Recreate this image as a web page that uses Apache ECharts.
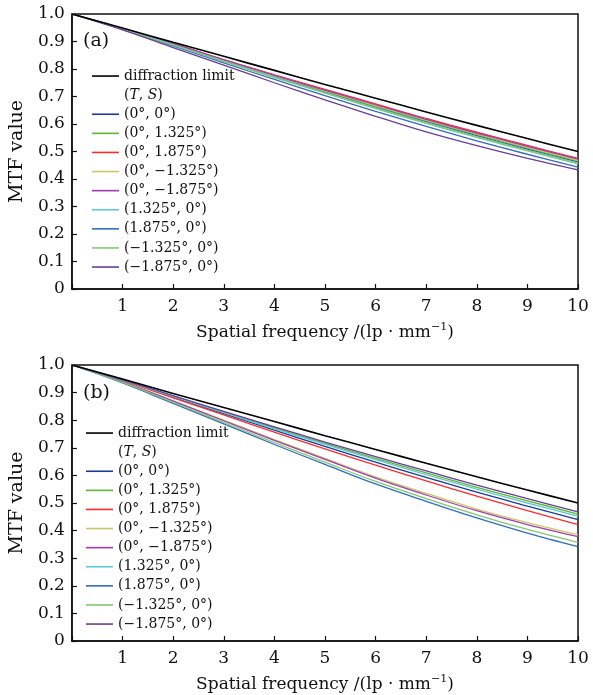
<!DOCTYPE html>
<html><head><meta charset="utf-8">
<script src="https://cdn.jsdelivr.net/npm/echarts@6/dist/echarts.min.js"></script>
<style>html,body{margin:0;padding:0;background:#fff}#c{width:593px;height:695px}</style>
</head><body><div id="c"></div>
<script>
// Spatial frequency (lp/mm)
const freq = [0, 1, 2, 3, 4, 5, 6, 7, 8, 9, 10];
const xTickLabels = ['', '1', '2', '3', '4', '5', '6', '7', '8', '9', '10'];
const yTickLabels = ['0', '0.1', '0.2', '0.3', '0.4', '0.5', '0.6', '0.7', '0.8', '0.9', '1.0'];

const names = ['diffraction limit', '(T, S)', '(0°, 0°)', '(0°, 1.325°)', '(0°, 1.875°)', '(0°, −1.325°)',
  '(0°, −1.875°)', '(1.325°, 0°)', '(1.875°, 0°)', '(−1.325°, 0°)', '(−1.875°, 0°)'];
const colors = ['#000000', 'rgba(0,0,0,0)', '#1a3a9c', '#5cb82e', '#ff2a2a', '#c8c868',
  '#a03cb0', '#60c8d8', '#2f6cc4', '#84c870', '#6a3c9c'];

// diffraction limit (same in both panels)
const diffLimit = [1, 0.949, 0.897, 0.846, 0.795, 0.744, 0.694, 0.644, 0.595, 0.547, 0.500];

// panel (a)
const a_0_0      = [1, 0.946, 0.889, 0.830, 0.773, 0.717, 0.662, 0.609, 0.558, 0.509, 0.462];
const a_0_1325   = [1, 0.946, 0.890, 0.831, 0.774, 0.719, 0.664, 0.611, 0.561, 0.512, 0.465];
const a_0_1875   = [1, 0.947, 0.893, 0.834, 0.779, 0.726, 0.673, 0.620, 0.570, 0.522, 0.475];
const a_0_m1325  = [1, 0.947, 0.891, 0.832, 0.776, 0.721, 0.667, 0.614, 0.564, 0.515, 0.468];
const a_0_m1875  = [1, 0.947, 0.892, 0.833, 0.777, 0.723, 0.670, 0.617, 0.567, 0.519, 0.472];
const a_1325_0   = [1, 0.946, 0.888, 0.829, 0.771, 0.714, 0.659, 0.605, 0.554, 0.505, 0.458];
const a_1875_0   = [1, 0.944, 0.884, 0.822, 0.762, 0.703, 0.646, 0.591, 0.539, 0.490, 0.443];
const a_m1325_0  = [1, 0.945, 0.887, 0.827, 0.769, 0.712, 0.656, 0.602, 0.551, 0.502, 0.455];
const a_m1875_0  = [1, 0.942, 0.878, 0.814, 0.750, 0.688, 0.628, 0.571, 0.521, 0.475, 0.433];

// panel (b)
const b_0_0      = [1, 0.944, 0.884, 0.824, 0.764, 0.705, 0.648, 0.593, 0.539, 0.489, 0.440];
const b_0_1325   = [1, 0.945, 0.887, 0.829, 0.772, 0.716, 0.662, 0.609, 0.557, 0.508, 0.460];
const b_0_1875   = [1, 0.943, 0.881, 0.819, 0.757, 0.696, 0.637, 0.580, 0.525, 0.472, 0.422];
const b_0_m1325  = [1, 0.940, 0.870, 0.800, 0.730, 0.662, 0.595, 0.535, 0.478, 0.429, 0.385];
const b_0_m1875  = [1, 0.939, 0.869, 0.798, 0.727, 0.658, 0.590, 0.529, 0.472, 0.422, 0.378];
const b_1325_0   = [1, 0.945, 0.886, 0.827, 0.769, 0.712, 0.657, 0.603, 0.550, 0.500, 0.452];
const b_1875_0   = [1, 0.935, 0.861, 0.787, 0.712, 0.640, 0.569, 0.506, 0.446, 0.391, 0.342];
const b_m1325_0  = [1, 0.937, 0.865, 0.792, 0.719, 0.648, 0.578, 0.516, 0.457, 0.404, 0.357];
const b_m1875_0  = [1, 0.946, 0.889, 0.832, 0.776, 0.721, 0.668, 0.616, 0.565, 0.516, 0.468];

const panelA = [diffLimit, [], a_0_0, a_0_1325, a_0_1875, a_0_m1325, a_0_m1875, a_1325_0, a_1875_0, a_m1325_0, a_m1875_0];
const panelB = [diffLimit, [], b_0_0, b_0_1325, b_0_1875, b_0_m1325, b_0_m1875, b_1325_0, b_1875_0, b_m1325_0, b_m1875_0];

const FONT = 'DejaVu Serif';
const chart = echarts.init(document.getElementById('c'), null, {renderer: 'canvas'});

function makeSeries(vals, gi) {
  return vals.map((v, k) => ({
    name: names[k],
    type: 'line',
    xAxisIndex: gi, yAxisIndex: gi,
    data: v.map((y, i) => [freq[i], y]),
    showSymbol: false, symbol: 'none',
    smooth: 0.35,
    color: colors[k],
    lineStyle: {width: k === 0 ? 1.6 : 1.3, color: colors[k]},
    z: k === 0 ? 5 : 3,
    silent: true,
    animation: false
  }));
}

function xAxisCfg(gi) {
  return {
    type: 'value', gridIndex: gi, min: 0, max: 10, interval: 1,
    axisLine: {show: true, lineStyle: {color: '#111', width: 1.5}},
    axisTick: {show: true, inside: true, length: 5, lineStyle: {color: '#111', width: 1.2}},
    splitLine: {show: false},
    axisLabel: {margin: 9, color: '#111', fontFamily: FONT, fontSize: 17,
      formatter: v => xTickLabels[Math.round(v)]},
    name: '{t|Spatial frequency /(lp · mm}{s|−1}{t|)}',
    nameLocation: 'middle', nameGap: 33,
    nameTextStyle: {color: '#111', fontFamily: FONT, fontSize: 17,
      rich: {t: {fontFamily: FONT, fontSize: 17, color: '#111'},
             s: {fontFamily: FONT, fontSize: 11, color: '#111', verticalAlign: 'top', padding: [0, 0, 10, 0]}}}
  };
}
function yAxisCfg(gi) {
  return {
    type: 'value', gridIndex: gi, min: 0, max: 1, interval: 0.1,
    axisLine: {show: true, lineStyle: {color: '#111', width: 1.5}},
    axisTick: {show: true, inside: true, length: 5, lineStyle: {color: '#111', width: 1.2}},
    splitLine: {show: false},
    axisLabel: {margin: 7, color: '#111', fontFamily: FONT, fontSize: 17,
      formatter: v => yTickLabels[Math.round(v * 10)]},
    name: 'MTF value', nameLocation: 'middle', nameGap: 42, nameRotate: 90,
    nameTextStyle: {color: '#111', fontFamily: FONT, fontSize: 19}
  };
}
function legendCfg(left, top) {
  return {
    orient: 'vertical', left: left, top: top, itemGap: 0, padding: 0,
    icon: 'rect', itemWidth: 27, itemHeight: 1.6,
    selectedMode: false,
    data: names,
    formatter: n => n === '(T, S)' ? '({i|T}, {i|S})' : n,
    textStyle: {fontFamily: FONT, fontSize: 14, color: '#111', lineHeight: 19.1,
      rich: {i: {fontFamily: FONT, fontSize: 14, fontStyle: 'italic', color: '#111', lineHeight: 19.1}}}
  };
}

chart.setOption({
  animation: false,
  backgroundColor: '#fff',
  grid: [
    {left: 67, top: 14, width: 511, height: 275, show: true, borderColor: '#111', borderWidth: 1.5, backgroundColor: 'transparent'},
    {left: 67, top: 365, width: 511, height: 276, show: true, borderColor: '#111', borderWidth: 1.5, backgroundColor: 'transparent'}
  ],
  xAxis: [xAxisCfg(0), xAxisCfg(1)],
  yAxis: [yAxisCfg(0), yAxisCfg(1)],
  legend: [legendCfg(92, 66.5), legendCfg(86, 423.5)],
  graphic: [
    {type: 'text', left: 83, top: 32, style: {text: '(a)', font: '19px "DejaVu Serif"', fill: '#111'}},
    {type: 'text', left: 83, top: 384, style: {text: '(b)', font: '19px "DejaVu Serif"', fill: '#111'}}
  ],
  series: makeSeries(panelA, 0).concat(makeSeries(panelB, 1))
});
</script>
</body></html>
